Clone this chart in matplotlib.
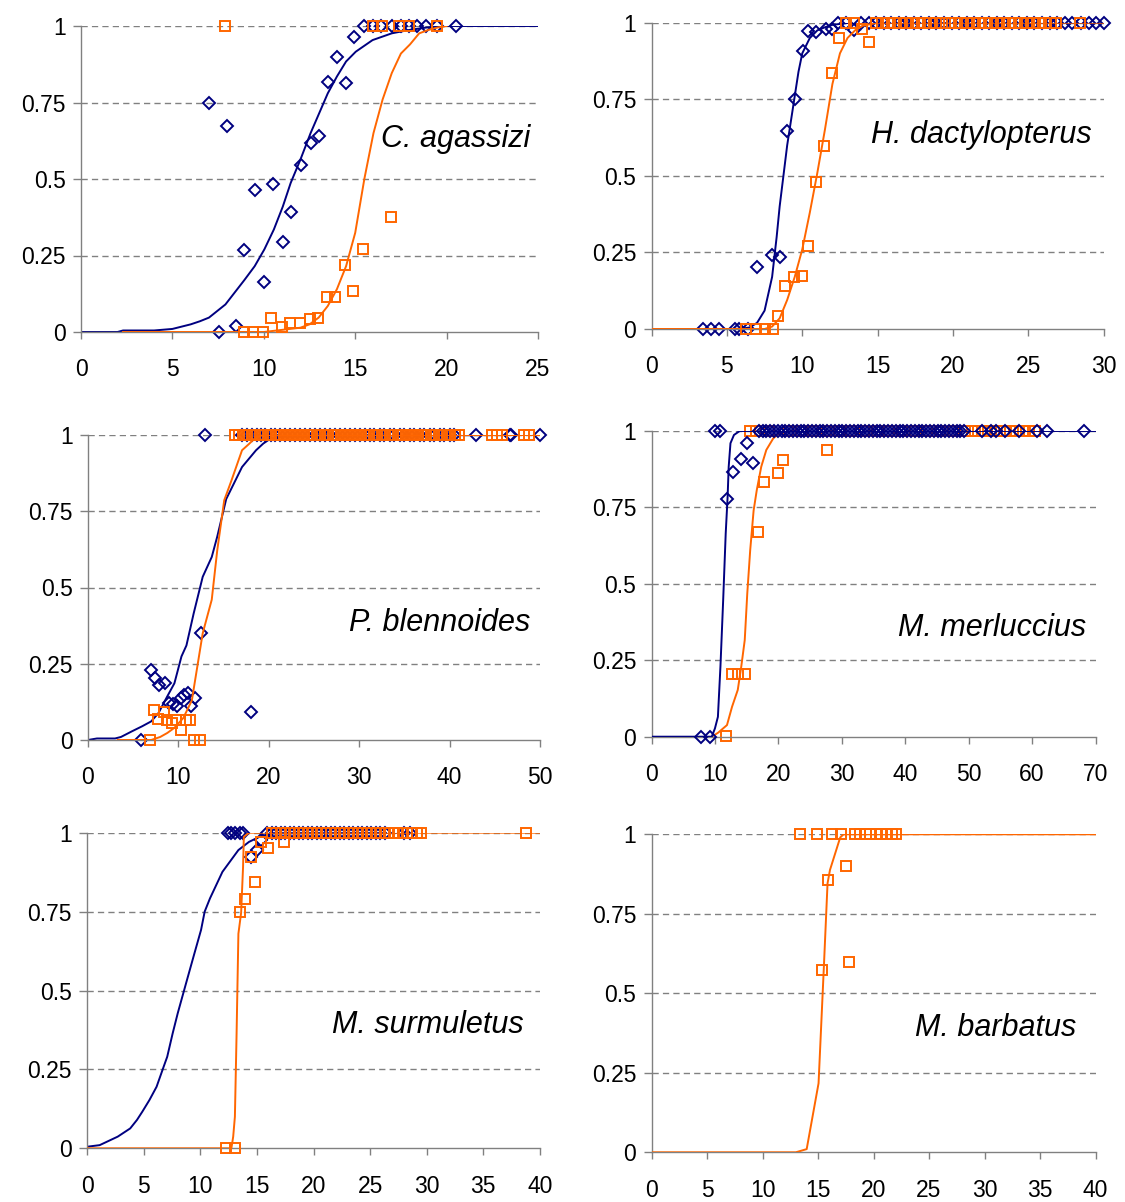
import matplotlib
matplotlib.use("Agg")
import matplotlib.pyplot as plt

# colours used by the two series
NAVY = "#000080"
ORANGE = "#FF6600"
GREY = "#808080"

plt.rcParams["font.family"] = ["Liberation Sans", "DejaVu Sans"]

y_ticks = [0, 0.25, 0.5, 0.75, 1]
y_tick_labels = ["0", "0.25", "0.5", "0.75", "1"]

# ---- C. agassizi ----
ca_blue_x = [7.0, 7.96, 7.57, 8.5, 8.94, 9.5, 10.03, 10.5, 11.04, 11.47, 12.01, 12.56, 13.03,
             13.51, 14.0, 14.49, 14.93, 15.46, 15.95, 16.4, 17.0, 17.5, 17.95, 18.4, 18.9, 19.5, 20.5]
ca_blue_y = [0.75, 0.672, 0, 0.02, 0.267, 0.463, 0.163, 0.484, 0.293, 0.392, 0.547, 0.617, 0.639,
             0.816, 0.9, 0.815, 0.965, 1, 1, 1, 1, 1, 1, 1, 1, 1, 1]
ca_orange_x = [7.9, 8.9, 9.42, 9.97, 10.4, 10.98, 11.43, 11.97, 12.5, 12.95, 13.44, 13.92, 14.45,
               14.9, 15.42, 16.98, 15.95, 16.44, 17.37, 17.95, 19.5]
ca_orange_y = [1, 0, 0, 0, 0.047, 0.017, 0.03, 0.03, 0.043, 0.047, 0.114, 0.114, 0.218,
               0.134, 0.272, 0.375, 1, 1, 1, 1, 1]
ca_fit_blue_x = [0, 2, 2.3, 4, 5, 6, 6.5, 7, 7.9, 8.94, 9.5, 10.03, 10.55, 11.04, 11.47, 12.0,
                 12.56, 13.03, 13.5, 14.0, 14.5, 15.03, 15.95, 17.0, 17.95, 18.9, 20, 25]
ca_fit_blue_y = [0, 0, 0.005, 0.005, 0.01, 0.025, 0.035, 0.047, 0.09, 0.17, 0.215, 0.27, 0.335,
                 0.41, 0.487, 0.563, 0.65, 0.715, 0.78, 0.835, 0.884, 0.916, 0.954, 0.976, 0.987,
                 0.995, 1, 1]
ca_fit_orange_x = [2.3, 9, 10, 11, 12, 12.5, 13, 13.5, 14, 14.5, 15, 15.5, 16, 16.5, 17, 17.5,
                   18, 18.5, 19, 19.5, 20]
ca_fit_orange_y = [0, 0, 0, 0.007, 0.014, 0.025, 0.047, 0.085, 0.14, 0.215, 0.324, 0.5, 0.65,
                   0.76, 0.846, 0.91, 0.94, 0.976, 0.987, 0.995, 1]

# ---- H. dactylopterus ----
hd_blue_x = [3.4, 3.93, 4.48, 5.52, 5.83, 6.43, 6.98, 8.02, 8.5, 8.98, 9.52, 10.05, 10.4, 10.9,
             11.55, 12.0, 13.45,
             12.4, 12.9, 13.9, 14.4, 14.9, 15.4, 15.9, 16.4, 16.9, 17.4, 17.9, 18.4, 18.9, 19.4,
             19.9, 20.4, 20.9, 21.4, 21.9, 22.4, 22.9, 23.4, 23.9, 24.4, 24.9, 25.4, 25.9, 26.4,
             26.9, 27.4, 27.9, 28.5, 29.0, 29.5, 30.0]
hd_blue_y = [0, 0, 0, 0, 0, 0, 0.203, 0.242, 0.234, 0.646, 0.751, 0.909, 0.974, 0.97,
             0.978, 0.98, 0.975] + [1] * 35
hd_orange_x = [6.3, 6.9, 7.5, 8.05, 8.38, 8.88, 9.45, 10.0, 10.36, 10.9, 11.43, 11.95, 12.45,
               13.98, 14.45,
               12.9, 13.45, 14.9, 15.3, 15.7, 16.1, 16.5, 16.9, 17.3, 17.7, 18.1, 18.5, 18.9,
               19.3, 19.7, 20.1, 20.5, 20.9, 21.3, 21.7, 22.1, 22.5, 22.9, 23.3, 23.7, 24.1,
               24.5, 24.9, 25.3, 25.7, 26.1, 26.5, 26.8, 28.45]
hd_orange_y = [0, 0, 0, 0, 0.044, 0.141, 0.169, 0.173, 0.271, 0.48, 0.598, 0.835, 0.951,
               0.978, 0.936] + [1] * 34
hd_fit_blue_x = [0, 5, 6, 6.5, 7, 7.5, 8, 8.3, 8.5, 8.75, 9, 9.25, 9.5, 9.75, 10, 10.5, 11,
                 11.5, 12, 13, 30]
hd_fit_blue_y = [0, 0, 0.001, 0.005, 0.02, 0.06, 0.17, 0.3, 0.4, 0.5, 0.6, 0.68, 0.76, 0.84,
                 0.9, 0.95, 0.975, 0.985, 0.993, 0.999, 1]
hd_fit_orange_x = [0, 7.5, 8, 8.5, 9, 9.5, 10, 10.5, 11, 11.5, 12, 12.5, 13, 13.5, 14, 15, 30]
hd_fit_orange_y = [0, 0, 0.008, 0.035, 0.095, 0.17, 0.26, 0.38, 0.51, 0.65, 0.8, 0.9, 0.95,
                   0.975, 0.99, 1, 1]

# ---- P. blennoides ----
pb_blue_x = [5.9, 7.0, 7.4, 7.87, 8.5, 8.98, 9.37, 9.84, 10.35, 10.67, 11.02, 11.42, 11.85,
             12.56, 18.03,
             12.9, 17.1, 17.6, 18.2, 18.7, 19.1, 19.6, 20.2, 20.7, 21.3, 21.8, 22.4, 22.9, 23.5,
             24.0, 24.6, 25.1, 25.7, 26.2, 26.8, 27.3, 27.9, 28.4, 29.0, 29.5, 30.1, 30.6, 31.2,
             31.7, 32.3, 32.8, 33.4, 33.9, 34.5, 35.0, 35.6, 36.1, 36.7, 37.2, 37.8, 38.3, 38.9,
             39.4, 40.0, 40.5, 42.9, 46.65, 46.85, 50.0]
pb_blue_y = [0, 0.228, 0.203, 0.179, 0.186, 0.121, 0.118, 0.11, 0.137, 0.148, 0.154, 0.11,
             0.137, 0.352, 0.092] + [1] * 49
pb_orange_x = [6.9, 7.28, 7.72, 8.39, 8.78, 9.25, 9.76, 10.35, 10.87, 11.34, 11.73, 12.4,
               16.3, 16.7, 17.2, 17.6, 18.1, 18.5, 19.0, 19.4, 19.9, 20.3, 20.8, 21.2, 21.7,
               22.1, 22.6, 23.0, 23.5, 23.9, 24.4, 24.8, 25.3, 25.7, 26.2, 26.6, 27.1, 27.5,
               28.0, 28.4, 28.9, 29.3, 29.8, 30.2, 30.7, 31.1, 31.6, 32.0, 32.5, 32.9, 33.4,
               33.8, 34.3, 34.7, 35.2, 35.6, 36.1, 36.5, 37.0, 37.4, 37.9, 38.3, 38.8, 39.2,
               39.7, 40.1, 40.6, 41.0, 44.7, 45.3, 45.8, 48.2, 48.8]
pb_orange_y = [0, 0.099, 0.069, 0.092, 0.064, 0.056, 0.064, 0.034, 0.064, 0.067, 0, 0] + [1] * 61
pb_fit_blue_x = [0, 1, 3, 3.66, 4.84, 6.0, 7.0, 7.8, 8.78, 9.57, 10.35, 10.9, 11.7, 12.7, 13.7,
                 14.3, 15.3, 17.05, 18.6, 19.4, 20.2, 21.8, 50]
pb_fit_blue_y = [0, 0.005, 0.005, 0.01, 0.028, 0.045, 0.061, 0.088, 0.143, 0.186, 0.274, 0.31,
                 0.415, 0.535, 0.6, 0.666, 0.79, 0.895, 0.95, 0.972, 0.988, 0.998, 1]
pb_fit_orange_x = [3.3, 7, 8, 8.78, 9.57, 10.55, 11.5, 12.1, 12.7, 13.7, 14.3, 15.08, 15.87,
                   17.05, 17.8, 18.6, 19.4, 50]
pb_fit_orange_y = [0, 0, 0.01, 0.023, 0.04, 0.072, 0.13, 0.24, 0.35, 0.46, 0.62, 0.786, 0.85,
                   0.95, 0.97, 0.993, 1, 1]

# ---- M. merluccius ----
mm_blue_x = [7.75, 9.17, 11.9, 12.85, 14.15, 15.0, 15.96,
             10.0, 10.87, 16.87, 17.5, 18.1, 18.7, 19.3, 19.9, 20.5, 21.1, 21.7, 22.3, 22.9,
             23.5, 24.1, 24.7, 25.3, 25.9, 26.5, 27.1, 27.7, 28.3, 28.9, 29.5, 30.1, 30.7, 31.3,
             31.9, 32.5, 33.1, 33.7, 34.3, 34.9, 35.5, 36.1, 36.7, 37.3, 37.9, 38.5, 39.1, 39.7,
             40.3, 40.9, 41.5, 42.1, 42.7, 43.3, 43.9, 44.5, 45.1, 45.7, 46.3, 46.9, 47.5, 48.1,
             48.7, 49.3, 52.1, 53.5, 54.3, 55.7, 58.0, 60.8, 62.3, 68.2]
mm_blue_y = [0, 0, 0.778, 0.867, 0.907, 0.962, 0.896] + [1] * 65
mm_orange_x = [11.7, 12.7, 13.7, 14.7, 16.8, 17.7, 19.9, 20.8, 27.7,
               15.56, 16.5, 18.5, 21.5, 23.5, 25.5, 27.5, 29.5, 31.5, 33.5, 35.5, 37.5, 39.5,
               41.5, 43.5, 45.5, 47.5, 49.5, 50.5, 51.5, 52.5, 53.5, 54.5, 55.5, 56.5, 57.5,
               58.5, 59.5, 60.5]
mm_orange_y = [0.003, 0.205, 0.205, 0.205, 0.67, 0.834, 0.861, 0.905, 0.938] + [1] * 29
mm_fit_blue_x = [0, 9.5, 10.0, 10.47, 10.87, 11.3, 11.7, 12.0, 12.17, 12.45, 13.0, 13.9, 70]
mm_fit_blue_y = [0, 0, 0.027, 0.065, 0.23, 0.447, 0.665, 0.785, 0.883, 0.96, 0.987, 1, 1]
mm_fit_orange_x = [9.5, 10.5, 11.9, 12.7, 13.6, 14.15, 14.7, 15.1, 15.56, 16.1, 16.6, 17.3,
                   18.1, 19.2, 20.1, 21.2, 60]
mm_fit_orange_y = [0, 0.013, 0.038, 0.098, 0.153, 0.229, 0.316, 0.469, 0.61, 0.74, 0.807,
                   0.883, 0.938, 0.976, 0.992, 1, 1]

# ---- M. surmuletus ----
ms_blue_x = [14.46, 15.0, 15.4,
             12.4, 12.7, 13.1, 13.5, 13.8, 15.9, 16.3, 16.7, 17.1, 17.5, 17.9, 18.3, 18.7, 19.1,
             19.5, 19.9, 20.3, 20.7, 21.1, 21.5, 21.9, 22.3, 22.7, 23.1, 23.5, 23.9, 24.3, 24.7,
             25.1, 25.5, 25.9, 26.3, 28.0, 28.5]
ms_blue_y = [0.922, 0.945, 0.977] + [1] * 34
ms_orange_x = [12.3, 13.05, 13.5, 13.9, 14.46, 14.87, 15.4, 15.94, 17.36,
               16.3, 16.7, 17.1, 17.5, 17.9, 18.3, 18.7, 19.1, 19.5, 19.9, 20.3, 20.7, 21.1,
               21.5, 21.9, 22.3, 22.7, 23.1, 23.5, 23.9, 24.3, 24.7, 25.1, 25.5, 25.9, 26.3,
               26.7, 27.1, 27.5, 27.9, 28.3, 28.7, 29.1, 29.5, 38.8]
ms_orange_y = [0, 0, 0.748, 0.789, 0.922, 0.845, 0.971, 0.952, 0.971] + [1] * 35
ms_fit_blue_x = [0, 1.1, 2.7, 3.8, 4.4, 4.87, 5.5, 6.13, 6.76, 7.07, 7.55, 8.0, 8.65, 9.43,
                 10.06, 10.38, 10.85, 11.95, 13.36, 14.3, 15.4, 16.5, 28]
ms_fit_blue_y = [0.005, 0.01, 0.037, 0.063, 0.09, 0.116, 0.153, 0.195, 0.259, 0.29, 0.364,
                 0.428, 0.512, 0.612, 0.692, 0.75, 0.792, 0.876, 0.945, 0.971, 0.99, 0.998, 1]
ms_fit_orange_x = [0, 12.74, 12.9, 13.05, 13.2, 13.36, 13.6, 13.77, 13.84, 14.3, 40]
ms_fit_orange_y = [0, 0, 0.037, 0.1, 0.364, 0.68, 0.746, 0.89, 0.987, 1, 1]

# ---- M. barbatus ----
mb_orange_x = [15.37, 15.86, 17.48, 17.83,
               13.4, 14.95, 16.25, 17.05, 18.3, 18.8, 19.3, 19.7, 20.2, 20.7, 21.2, 21.7, 22.07]
mb_orange_y = [0.573, 0.856, 0.9, 0.6] + [1] * 13
mb_fit_orange_x = [0, 13.0, 13.98, 15.05, 15.53, 15.86, 16.08, 17.0, 17.3, 40]
mb_fit_orange_y = [0, 0, 0.01, 0.217, 0.584, 0.846, 0.888, 0.99, 1, 1]

W, H = 1125, 1202
fig = plt.figure(figsize=(W / 100, H / 100), dpi=100)


def make_axes(left, right, top, bottom):
    # pixel box -> figure fraction
    return fig.add_axes([left / W, (H - bottom) / H, (right - left) / W, (bottom - top) / H])


def style_axes(ax, xmax, xstep):
    ax.set_xlim(0, xmax)
    ax.set_ylim(0, 1)
    ax.set_xticks(range(0, xmax + 1, xstep))
    ax.set_yticks(y_ticks)
    ax.set_yticklabels(y_tick_labels)
    for side in ["top", "right"]:
        ax.spines[side].set_visible(False)
    for side in ["left", "bottom"]:
        ax.spines[side].set_color(GREY)
        ax.spines[side].set_linewidth(1.0)
    ax.tick_params(axis="x", length=5, width=1, color=GREY, labelsize=16.5, pad=14)
    ax.tick_params(axis="y", length=6, width=1, color=GREY, labelsize=16.5, pad=5)
    for y in y_ticks[1:]:
        ax.axhline(y, color=GREY, lw=1, dashes=(4.5, 3), zorder=0.5)


def draw_series(ax, fx, fy, px, py, color, marker, ms, z):
    if fx is not None:
        ax.plot(fx, fy, color=color, lw=1.4, zorder=z)
    ax.plot(px, py, linestyle="none", marker=marker, ms=ms, mfc="none", mec=color,
            mew=1.4, zorder=z + 0.5, clip_on=False)


def label(ax, x, y, text):
    ax.text(x, y, text, ha="right", va="center", fontsize=22, style="italic")


# top left
ax1 = make_axes(81, 538, 26, 332)
style_axes(ax1, 25, 5)
draw_series(ax1, ca_fit_blue_x, ca_fit_blue_y, ca_blue_x, ca_blue_y, NAVY, "D", 5.9, 2)
draw_series(ax1, ca_fit_orange_x, ca_fit_orange_y, ca_orange_x, ca_orange_y, ORANGE, "s", 7.7, 3)
label(ax1, 24.6, 0.63, "C. agassizi")

# top right
ax2 = make_axes(651.5, 1103.8, 22.7, 329)
style_axes(ax2, 30, 5)
draw_series(ax2, hd_fit_blue_x, hd_fit_blue_y, hd_blue_x, hd_blue_y, NAVY, "D", 5.9, 2)
draw_series(ax2, hd_fit_orange_x, hd_fit_orange_y, hd_orange_x, hd_orange_y, ORANGE, "s", 7.7, 3)
label(ax2, 29.2, 0.633, "H. dactylopterus")

# middle left
ax3 = make_axes(87.9, 539.9, 435, 740)
style_axes(ax3, 50, 10)
draw_series(ax3, pb_fit_blue_x, pb_fit_blue_y, pb_blue_x, pb_blue_y, NAVY, "D", 5.9, 2)
draw_series(ax3, pb_fit_orange_x, pb_fit_orange_y, pb_orange_x, pb_orange_y, ORANGE, "s", 7.7, 3)
label(ax3, 48.9, 0.383, "P. blennoides")

# middle right (blue markers sit on top here)
ax4 = make_axes(651.5, 1095.5, 431, 736.7)
style_axes(ax4, 70, 10)
draw_series(ax4, mm_fit_orange_x, mm_fit_orange_y, mm_orange_x, mm_orange_y, ORANGE, "s", 7.7, 2)
draw_series(ax4, mm_fit_blue_x, mm_fit_blue_y, mm_blue_x, mm_blue_y, NAVY, "D", 5.9, 3)
label(ax4, 68.5, 0.357, "M. merluccius")

# bottom left
ax5 = make_axes(87.2, 539.9, 832.7, 1148.3)
style_axes(ax5, 40, 5)
draw_series(ax5, ms_fit_blue_x, ms_fit_blue_y, ms_blue_x, ms_blue_y, NAVY, "D", 5.9, 2)
draw_series(ax5, ms_fit_orange_x, ms_fit_orange_y, ms_orange_x, ms_orange_y, ORANGE, "s", 7.7, 3)
label(ax5, 38.6, 0.39, "M. surmuletus")

# bottom right
ax6 = make_axes(651.5, 1095.5, 834.3, 1152.3)
style_axes(ax6, 40, 5)
draw_series(ax6, mb_fit_orange_x, mb_fit_orange_y, mb_orange_x, mb_orange_y, ORANGE, "s", 7.7, 3)
label(ax6, 38.25, 0.392, "M. barbatus")

fig.savefig("out.png", dpi=100)
